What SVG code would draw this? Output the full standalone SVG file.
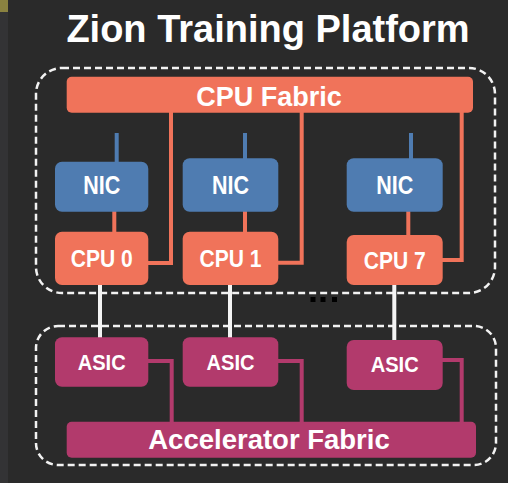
<svg xmlns="http://www.w3.org/2000/svg" width="508" height="483" viewBox="0 0 508 483">
<style>
.t{font-family:"Liberation Sans",Arial,sans-serif;font-weight:bold;fill:#fff;text-anchor:middle}
.cpu{fill:#f0735a}
.nic{fill:#4f7cb1}
.asic{fill:#b23a6c}
.dash{fill:none;stroke:#f2f2f2;stroke-width:2.5;stroke-dasharray:7 4}
.lo{stroke:#f0735a;stroke-width:4;fill:none}
.lb{stroke:#4f7cb1;stroke-width:4;fill:none}
.lm{stroke:#b23a6c;stroke-width:4;fill:none}
.lw{stroke:#f4f4f4;stroke-width:4;fill:none}
</style>
<rect width="508" height="483" fill="#2a2a2a"/>
<rect width="8" height="483" fill="#333335"/>
<rect width="8" height="12" fill="#8a8240"/>
<text class="t" x="268" y="42" font-size="38">Zion Training Platform</text>
<rect class="dash" x="36" y="68" width="459" height="225" rx="26"/>
<rect class="dash" x="36" y="326" width="460" height="139" rx="22"/>
<g id="connectors">
<path class="lo" d="M171 112V263H148M301.7 112V262.7H278M461.7 112V260H442"/>
<path class="lb" d="M116.7 133V162M245 133V159M411 133V159"/>
<path class="lo" d="M114.3 211V232M245 211V232M408.3 211V235"/>
<path class="lw" d="M100 285V338M230 285V338M394.3 285V341"/>
<path class="lm" d="M148 361H171.7V422M278 361H301.7V422M442 360H461.7V422"/>
</g>
<g id="cpu-fabric"><rect class="cpu" x="66.7" y="76.7" width="406.3" height="36" rx="5"/><text class="t" x="269" y="106" font-size="27">CPU Fabric</text></g>
<g id="nic0"><rect class="nic" x="55" y="161.7" width="93.3" height="50" rx="7"/><text class="t" x="101.7" y="193.5" font-size="25" textLength="37" lengthAdjust="spacingAndGlyphs">NIC</text></g>
<g id="nic1"><rect class="nic" x="182.7" y="158.3" width="95.6" height="53.4" rx="7"/><text class="t" x="230.5" y="193.5" font-size="25" textLength="37" lengthAdjust="spacingAndGlyphs">NIC</text></g>
<g id="nic7"><rect class="nic" x="346.7" y="158.3" width="96" height="53.4" rx="7"/><text class="t" x="394.7" y="193.5" font-size="25" textLength="37" lengthAdjust="spacingAndGlyphs">NIC</text></g>
<g id="cpu0"><rect class="cpu" x="55" y="231.7" width="93.3" height="53.3" rx="7"/><text class="t" x="101.7" y="266.7" font-size="23.5" textLength="62" lengthAdjust="spacingAndGlyphs">CPU 0</text></g>
<g id="cpu1"><rect class="cpu" x="182.7" y="231.7" width="95.6" height="53.3" rx="7"/><text class="t" x="230.5" y="266.7" font-size="23.5" textLength="62" lengthAdjust="spacingAndGlyphs">CPU 1</text></g>
<g id="cpu7"><rect class="cpu" x="346.7" y="235" width="96" height="50" rx="7"/><text class="t" x="394.7" y="268.5" font-size="23.5" textLength="62" lengthAdjust="spacingAndGlyphs">CPU 7</text></g>
<g id="dots" fill="#000"><rect x="310.5" y="297" width="5" height="5"/><rect x="320.5" y="297" width="5" height="5"/><rect x="332" y="297" width="5" height="5"/></g>
<g id="asic0"><rect class="asic" x="55" y="337.3" width="93.3" height="49.4" rx="7"/><text class="t" x="101.7" y="370" font-size="22.5" textLength="48" lengthAdjust="spacingAndGlyphs">ASIC</text></g>
<g id="asic1"><rect class="asic" x="182.7" y="337.3" width="95.6" height="49.4" rx="7"/><text class="t" x="230.5" y="370" font-size="22.5" textLength="48" lengthAdjust="spacingAndGlyphs">ASIC</text></g>
<g id="asic7"><rect class="asic" x="346.7" y="340" width="96" height="50" rx="7"/><text class="t" x="394.7" y="372" font-size="22.5" textLength="48" lengthAdjust="spacingAndGlyphs">ASIC</text></g>
<g id="accelerator-fabric"><rect class="asic" x="66.7" y="421.7" width="409.3" height="36" rx="5"/><text class="t" x="269" y="449.3" font-size="27.5">Accelerator Fabric</text></g>
</svg>
